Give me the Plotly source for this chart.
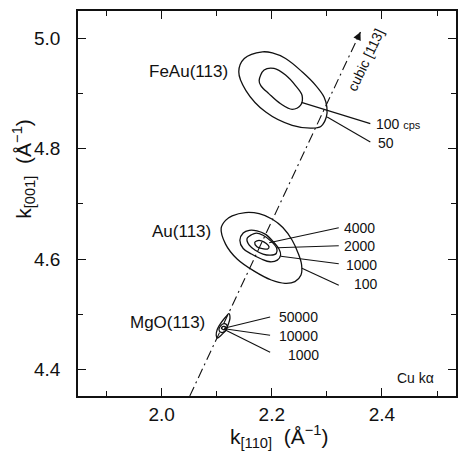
import plotly.graph_objects as go

# ---------------- data ----------------
# FeAu(113) contours
feau_50_x = [2.140, 2.150, 2.183, 2.201, 2.225, 2.255, 2.280, 2.295, 2.300, 2.299, 2.289, 2.273, 2.237, 2.189, 2.153]
feau_50_y = [4.939, 4.963, 4.975, 4.973, 4.963, 4.939, 4.914, 4.893, 4.875, 4.857, 4.840, 4.837, 4.842, 4.866, 4.905]
feau_100_x = [2.177, 2.186, 2.204, 2.225, 2.243, 2.255, 2.252, 2.237, 2.216, 2.195, 2.180]
feau_100_y = [4.923, 4.942, 4.945, 4.933, 4.914, 4.896, 4.878, 4.871, 4.881, 4.899, 4.914]

# Au(113) contours
au_100_x = [2.108, 2.116, 2.128, 2.152, 2.177, 2.201, 2.220, 2.237, 2.248, 2.254, 2.253, 2.242, 2.224, 2.199, 2.168, 2.137, 2.116]
au_100_y = [4.656, 4.670, 4.678, 4.684, 4.682, 4.672, 4.657, 4.634, 4.610, 4.590, 4.571, 4.559, 4.556, 4.562, 4.578, 4.600, 4.627]
au_1000_x = [2.142, 2.148, 2.159, 2.173, 2.188, 2.202, 2.213, 2.216, 2.210, 2.197, 2.181, 2.163, 2.148]
au_1000_y = [4.634, 4.647, 4.652, 4.651, 4.645, 4.632, 4.618, 4.607, 4.598, 4.595, 4.600, 4.609, 4.619]
au_2000_x = [2.155, 2.163, 2.172, 2.184, 2.199, 2.209, 2.208, 2.198, 2.184, 2.170, 2.159]
au_2000_y = [4.637, 4.644, 4.647, 4.643, 4.632, 4.619, 4.610, 4.607, 4.609, 4.616, 4.625]
au_4000_x = [2.169, 2.173, 2.181, 2.190, 2.195, 2.192, 2.183, 2.173]
au_4000_y = [4.630, 4.633, 4.633, 4.628, 4.622, 4.618, 4.619, 4.622]

# MgO(113) contours
mgo_1000_x = [2.122, 2.124, 2.121, 2.116, 2.107, 2.101, 2.099, 2.101, 2.108, 2.117]
mgo_1000_y = [4.501, 4.493, 4.482, 4.471, 4.461, 4.457, 4.462, 4.473, 4.485, 4.496]
mgo_10000_x = [2.107, 2.113, 2.118, 2.119, 2.115, 2.108, 2.104]
mgo_10000_y = [4.479, 4.483, 4.481, 4.476, 4.469, 4.467, 4.472]
mgo_50000_x = [2.109, 2.112, 2.116, 2.116, 2.113, 2.110]
mgo_50000_y = [4.476, 4.478, 4.477, 4.474, 4.472, 4.473]

# cubic [113] direction
cubic_x = [2.051, 2.361]
cubic_y = [4.352, 5.011]

# peak labels
peak_names = ["FeAu(113)", "Au(113)", "MgO(113)"]
peak_label_x = [2.049, 2.036, 2.011]
peak_label_y = [4.940, 4.650, 4.485]

# contour level labels
level_text = ["100 <span style='font-size:11px'>cps</span>", "50", "4000", "2000", "1000", "100", "50000", "10000", "1000"]
level_x = [2.385, 2.390, 2.328, 2.328, 2.331, 2.345, 2.210, 2.210, 2.225]
level_y = [4.845, 4.810, 4.656, 4.6235, 4.590, 4.554, 4.495, 4.4606, 4.4257]
# leader lines (start on contour -> end at label)
leader_x0 = [2.2538, 2.3005, 2.1951, 2.2096, 2.2163, 2.2547, 2.1129, 2.1138, 2.1165]
leader_y0 = [4.8836, 4.8570, 4.6293, 4.6203, 4.6049, 4.5832, 4.4746, 4.4737, 4.4710]
leader_x1 = [2.3789, 2.3789, 2.3216, 2.3216, 2.3216, 2.3216, 2.1969, 2.1969, 2.1969]
leader_y1 = [4.8451, 4.8118, 4.6565, 4.6239, 4.5913, 4.5524, 4.4950, 4.4619, 4.4311]

# ---------------- figure ----------------
INK = "#111111"
FONT = "Liberation Sans, Arial, Helvetica, sans-serif"

fig = go.Figure()

contours = [
    (feau_50_x, feau_50_y), (feau_100_x, feau_100_y),
    (au_100_x, au_100_y), (au_1000_x, au_1000_y), (au_2000_x, au_2000_y), (au_4000_x, au_4000_y),
    (mgo_1000_x, mgo_1000_y), (mgo_10000_x, mgo_10000_y), (mgo_50000_x, mgo_50000_y),
]
for cx, cy in contours:
    fig.add_trace(go.Scatter(
        x=list(cx) + [cx[0]], y=list(cy) + [cy[0]], mode="lines",
        line=dict(color=INK, width=1.3, shape="spline", smoothing=1.0),
        hoverinfo="skip", showlegend=False))

# cubic direction (dash-dot)
fig.add_trace(go.Scatter(x=cubic_x, y=cubic_y, mode="lines",
                         line=dict(color=INK, width=1.1, dash="10px,4px,2px,4px"),
                         hoverinfo="skip", showlegend=False))

# leader lines
lx, ly = [], []
for a, b, c, d in zip(leader_x0, leader_y0, leader_x1, leader_y1):
    lx += [a, c, None]
    ly += [b, d, None]
fig.add_trace(go.Scatter(x=lx, y=ly, mode="lines", line=dict(color=INK, width=1.1),
                         hoverinfo="skip", showlegend=False))

# arrow head at the end of the cubic line
slope = (cubic_y[1] - cubic_y[0]) / (cubic_x[1] - cubic_x[0])
fig.add_annotation(x=cubic_x[1], y=cubic_y[1], ax=cubic_x[1] - 0.012, ay=cubic_y[1] - 0.012 * slope,
                   xref="x", yref="y", axref="x", ayref="y", text=" ", showarrow=True,
                   arrowhead=2, arrowsize=1.6, arrowwidth=1, arrowcolor=INK)

fig.add_annotation(x=2.370, y=4.961, xref="x", yref="y", text="cubic [113]", showarrow=False,
                   textangle=-64.8, font=dict(size=14, color=INK, family=FONT))

for t, x, y in zip(peak_names, peak_label_x, peak_label_y):
    fig.add_annotation(x=x, y=y, xref="x", yref="y", text=t, showarrow=False,
                       font=dict(size=17, color=INK, family=FONT))

for t, x, y in zip(level_text, level_x, level_y):
    fig.add_annotation(x=x, y=y, xref="x", yref="y", text=t, showarrow=False, xanchor="left",
                       font=dict(size=14, color=INK, family=FONT))

fig.add_annotation(x=2.4616, y=4.385, xref="x", yref="y", text="Cu kα", showarrow=False,
                   font=dict(size=14, color=INK, family=FONT))

# axis titles
fig.add_annotation(x=0.5326, y=-0.106, xref="paper", yref="paper", yanchor="middle",
                   text="k<sub>[110]</sub>  (Å<sup>−1</sup>)", showarrow=False,
                   font=dict(size=21, color=INK, family=FONT))
fig.add_annotation(x=-0.143, y=0.59, xref="paper", yref="paper", xanchor="center", yanchor="middle",
                   text="k<sub>[001]</sub>  (Å<sup>−1</sup>)", showarrow=False, textangle=-90,
                   font=dict(size=21, color=INK, family=FONT))

axis_common = dict(showline=True, linecolor=INK, linewidth=1.5, mirror="ticks",
                   ticks="inside", ticklen=8, tickwidth=1.2, tickcolor=INK,
                   showgrid=False, zeroline=False, tickformat=".1f",
                   tickfont=dict(size=19, color=INK, family=FONT),
                   minor=dict(ticks="inside", ticklen=5, tickwidth=1.2, tickcolor=INK, dtick=0.1, showgrid=False))

fig.update_xaxes(range=[1.848, 2.5345], tick0=2.0, dtick=0.2, ticklabelstandoff=0, **axis_common)
fig.update_yaxes(range=[4.352, 5.049], tick0=4.4, dtick=0.2, ticklabelstandoff=12, **axis_common)

fig.update_layout(width=463, height=453, margin=dict(l=78, r=5, t=11, b=57),
                  paper_bgcolor="white", plot_bgcolor="white", showlegend=False)

# remove the page's default body margin / scrollbars so the figure sits at the window's corner
fig.write_html("out.html", config={"displayModeBar": False},
               post_script="document.body.style.margin='0';document.body.style.overflow='hidden';")
